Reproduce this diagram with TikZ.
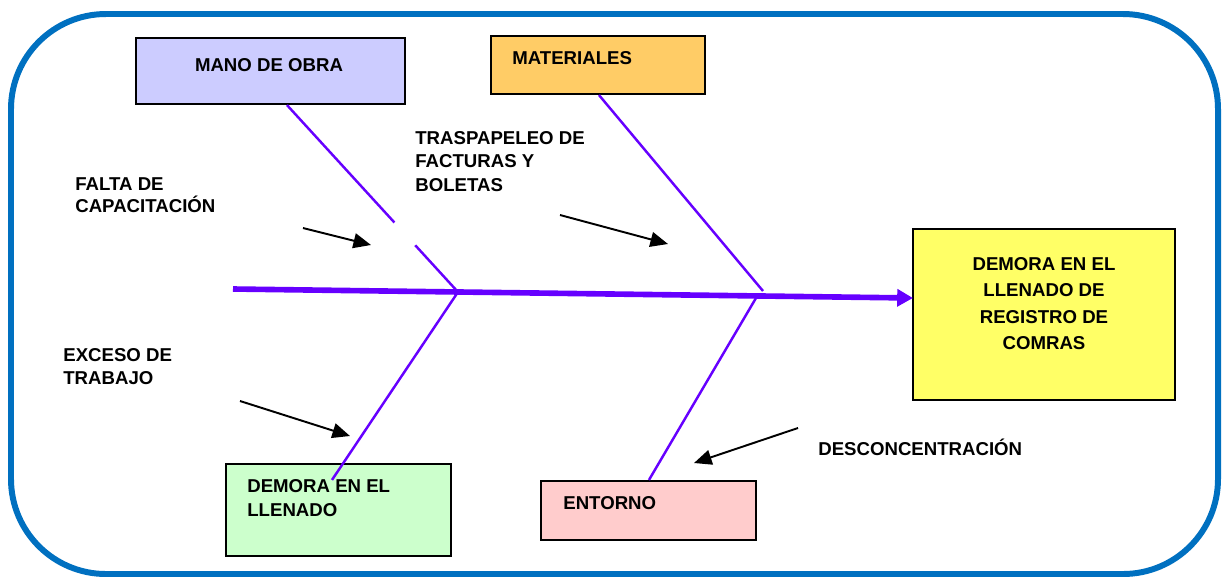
\documentclass[tikz,border=0pt]{standalone}
\usepackage{fontspec}
\setmainfont{Liberation Sans}
\usetikzlibrary{arrows.meta,calc}
\definecolor{marco}{HTML}{0070C0}
\definecolor{espina}{HTML}{6600FF}
\definecolor{fmano}{HTML}{CCCCFF}
\definecolor{fmat}{HTML}{FFCC66}
\definecolor{fefecto}{HTML}{FFFF66}
\definecolor{fdemora}{HTML}{CCFFCC}
\definecolor{fentorno}{HTML}{FFCCCC}
\begin{document}
\begin{tikzpicture}[x=0.02cm,y=-0.02cm,
    caja/.style={draw=black,line width=1.2pt,inner sep=0pt},
    texto/.style={inner sep=0pt,align=left,anchor=base west,
      font=\fontsize{10.6}{13.3}\selectfont\bfseries},
    hueso/.style={espina,line width=1.4pt},
    flecha/.style={line width=1.1pt,-{Triangle[length=10pt,width=8.5pt]}}]
                \useasboundingbox (0,0) rectangle (1224,576) ;
                \draw [marco,line width=3.4pt,rounded corners=1.9cm] (11,14) rectangle (1218,574) ;
                % cajas
                \node [caja,fill=fmano,minimum width=5.38cm,minimum height=1.32cm] (mano) at (270.5,71) {} ;
                \node [caja,fill=fmat,minimum width=4.28cm,minimum height=1.16cm] (mat) at (598,65) {} ;
                \node [caja,fill=fefecto,minimum width=5.24cm,minimum height=3.42cm] (efecto) at (1044,314.5) {} ;
                \node [caja,fill=fdemora,minimum width=4.5cm,minimum height=1.84cm] (demora) at (338.5,510) {} ;
                \node [caja,fill=fentorno,minimum width=4.3cm,minimum height=1.18cm] (entorno) at (648.5,510.5) {} ;
                % textos (base = ultima linea)
                \node [texto,anchor=base] (tmano) at (269,71) {MANO DE OBRA} ;
                \node [texto] (tmat) at (512,64) {MATERIALES} ;
                \node [texto,align=center,anchor=base,font=\fontsize{10.6}{15}\selectfont\bfseries] (tefecto) at (1044,349.5) {DEMORA EN EL\\LLENADO DE\\REGISTRO DE\\COMRAS} ;
                \node [texto,font=\fontsize{10.6}{13.6}\selectfont\bfseries] (tdemora) at (247,516) {DEMORA EN EL\\LLENADO} ;
                \node [texto] (tentorno) at (563,509) {ENTORNO} ;
                \node [texto,font=\fontsize{10.6}{12.5}\selectfont\bfseries] (falta) at (75,212.5) {FALTA DE\\CAPACITACIÓN} ;
                \node [texto] (traspapeleo) at (415,191) {TRASPAPELEO DE\\FACTURAS Y\\BOLETAS} ;
                \node [texto] (exceso) at (63,384.5) {EXCESO DE\\TRABAJO} ;
                \node [texto] (descon) at (818,455.5) {DESCONCENTRACIÓN} ;
                % espina
                \coordinate (cola) at (233,289) ;
                \coordinate (punta) at (913,298) ;
                \coordinate (j1) at (458,292) ;
                \coordinate (j2) at (763,291) ;
                \coordinate (j3) at (756,298) ;
                \draw [espina,line width=3.2pt,-{Triangle[length=9pt,width=9.6pt]}] (cola) -- (punta) ;
                % huesos
                \coordinate (m1) at ($(mano.south west)+(152,0)$) ;
                \draw [hueso] (m1) -- ($(m1)!0.628!(j1)$) ;
                \draw [hueso] ($(m1)!0.75!(j1)$) -- (j1) ;
                \draw [hueso] ($(mat.south west)+(109,0)$) -- (j2) ;
                \draw [hueso] (j1) -- ($(demora.north west)+(107,17)$) ;
                \draw [hueso] (j3) -- ($(entorno.north west)+(109,0)$) ;
                % flechas
                \coordinate (a1) at (303,228) ; \coordinate (b1) at (371,245) ;
                \coordinate (a2) at (560,215) ; \coordinate (b2) at (668,244) ;
                \coordinate (a3) at (240,401) ; \coordinate (b3) at (350,436) ;
                \coordinate (a4) at (798,428) ; \coordinate (b4) at (694,463) ;
                \draw [flecha] (a1) -- (b1) ;
                \draw [flecha] (a2) -- (b2) ;
                \draw [flecha] (a3) -- (b3) ;
                \draw [flecha] (a4) -- (b4) ;
            \end{tikzpicture}
\end{document}
